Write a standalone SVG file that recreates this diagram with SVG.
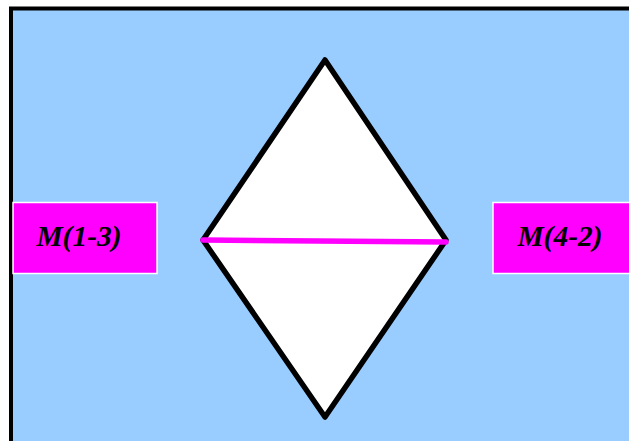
<svg xmlns="http://www.w3.org/2000/svg" width="629" height="441" viewBox="0 0 629 441">
<style>
.lbl{fill:#FF00FF;stroke:#FFFFFF;stroke-width:1.5}
.txt{font-family:"Liberation Serif","Times New Roman",serif;font-weight:bold;font-style:italic;font-size:29.5px;fill:#000;text-anchor:middle}
</style>
<rect x="0" y="0" width="629" height="441" fill="#FFFFFF"/>
<rect id="frame" x="11" y="8.5" width="640" height="460" fill="#99CCFF" stroke="#000" stroke-width="4"/>
<g id="diamond">
<polygon points="325,60 446,240 325,417 203,240" fill="#FFFFFF" stroke="#000" stroke-width="5.5" stroke-linejoin="round"/>
</g>
<g id="connectors">
<line x1="203" y1="240" x2="446" y2="242" stroke="#FF00FF" stroke-width="5.5" stroke-linecap="round"/>
</g>
<g id="m13">
<rect class="lbl" x="13" y="202.5" width="144" height="71"/>
<text class="txt" x="79" y="245.5">M(1-3)</text>
</g>
<g id="m42">
<rect class="lbl" x="493" y="202.5" width="150" height="71"/>
<text class="txt" x="560" y="245.5">M(4-2)</text>
</g>
</svg>
